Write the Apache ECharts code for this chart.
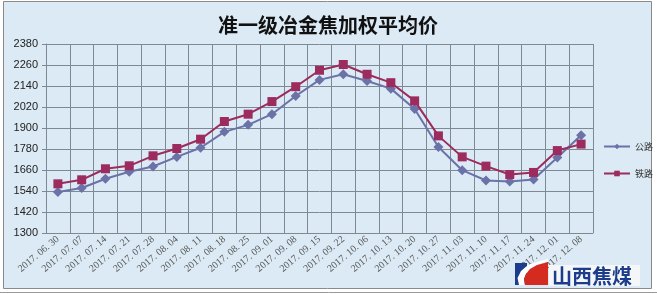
<!DOCTYPE html>
<html>
<head>
<meta charset="utf-8">
<script src="https://cdn.jsdelivr.net/npm/echarts@6/dist/echarts.min.js"></script>
<style>html,body{margin:0;padding:0;background:#fff}#c{width:657px;height:294px}</style>
</head>
<body>
<div id="c"></div>
<script>
var titleText = '准一级冶金焦加权平均价';
var categories = ['2017.06.30','2017.07.07','2017.07.14','2017.07.21','2017.07.28','2017.08.04','2017.08.11','2017.08.18','2017.08.25','2017.09.01','2017.09.08','2017.09.15','2017.09.22','2017.10.06','2017.10.13','2017.10.20','2017.10.27','2017.11.03','2017.11.10','2017.11.17','2017.11.24','2017.12.01','2017.12.08'];
var roadName = '公路';
var railName = '铁路';
var roadValues = [1534,1557,1610,1650,1680,1735,1787,1878,1918,1979,2083,2175,2207,2169,2125,2009,1791,1659,1600,1594,1606,1731,1859];
var railValues = [1581,1604,1667,1684,1741,1783,1836,1937,1979,2051,2136,2230,2263,2207,2159,2055,1855,1735,1682,1634,1646,1771,1808];
var yMin = 1300, yMax = 2380, yStep = 120;
var logoText = '山西焦煤';

var chart = echarts.init(document.getElementById('c'), null, {renderer:'canvas'});
chart.setOption({
  backgroundColor: '#ffffff',
  animation: false,
  title: {
    text: titleText, left: 323, top: 10, textAlign: 'center',
    textStyle: {fontFamily:'Noto Sans CJK SC', fontSize: 20, fontWeight: 'bold', color:'#111'}
  },
  legend: {
    orient: 'vertical', left: 598, top: 137, itemWidth: 26, itemHeight: 7, itemGap: 18,
    textStyle: {fontFamily:'Noto Sans CJK SC', fontSize: 9, color:'#333'},
    data: [roadName, railName]
  },
  grid: {left: 46, right: 64, top: 44, bottom: 61},
  xAxis: {
    type: 'category', data: categories, boundaryGap: true,
    axisLine: {lineStyle: {color:'#7d8994', width:1}},
    axisTick: {show: false},
    splitLine: {show: true, lineStyle: {color:'#7d8994', width:1}},
    axisLabel: {rotate: 40, interval: 0, fontFamily:'Liberation Serif', fontSize: 10, color:'#555', margin: 5,
      formatter: function (v) { return v.split('.').join('. '); }}
  },
  yAxis: {
    type: 'value', min: yMin, max: yMax, interval: yStep,
    axisLine: {show: true, lineStyle: {color:'#7d8994'}},
    axisTick: {show: true, length: 4, lineStyle: {color:'#7d8994'}},
    splitLine: {lineStyle: {color:'#7d8994', width:1}},
    axisLabel: {fontFamily:'Liberation Sans', fontSize: 11, color:'#222', margin: 8,
      formatter: function (v) { return String(v); }}
  },
  series: [
    {name: roadName, type:'line', data: roadValues, symbol:'diamond', symbolSize: 10,
     lineStyle:{color:'#6a72a8', width:2}, itemStyle:{color:'#6a72a8'}, z: 3},
    {name: railName, type:'line', data: railValues, symbol:'rect', symbolSize: 9,
     lineStyle:{color:'#9c2b5e', width:2}, itemStyle:{color:'#9c2b5e'}, z: 4}
  ],
  graphic: [
    {type:'rect', z:-10, silent:true, shape:{x:3.5, y:1.5, width:648, height:287}, style:{fill:'#dbeaf4', stroke:'#8a8a8a', lineWidth:1}},
    {type:'line', z:-10, silent:true, shape:{x1:0, y1:292.5, x2:657, y2:292.5}, style:{stroke:'#9a9a9a', lineWidth:1}},
    {type:'rect', z:100, silent:true, shape:{x:549, y:265, width:91, height:21}, style:{fill:'#f4f6f8'}},
    {type:'rect', z:101, silent:true, shape:{x:515, y:263, width:12, height:22}, style:{fill:'#1c3c8c'}},
    {type:'polygon', z:102, silent:true, shape:{points:[[519,285],[517.5,278],[521,271],[528,265],[540,261],[548,259],[548,262],[537,265],[530,269],[526,274],[524,279],[525,285]]}, style:{fill:'#ffffff'}},
    {type:'polygon', z:103, silent:true, shape:{points:[[525,285],[524,279],[526,274],[530,269],[537,265],[548,262],[548,285]]}, style:{fill:'#d42a1f'}},
    {type:'text', z:104, silent:true, style:{x:552, y:276, text: logoText, fill:'#1c3c8c', font:'bold 20px "Noto Sans CJK SC"', verticalAlign:'middle', textAlign:'left'}}
  ]
});
</script>
</body>
</html>
